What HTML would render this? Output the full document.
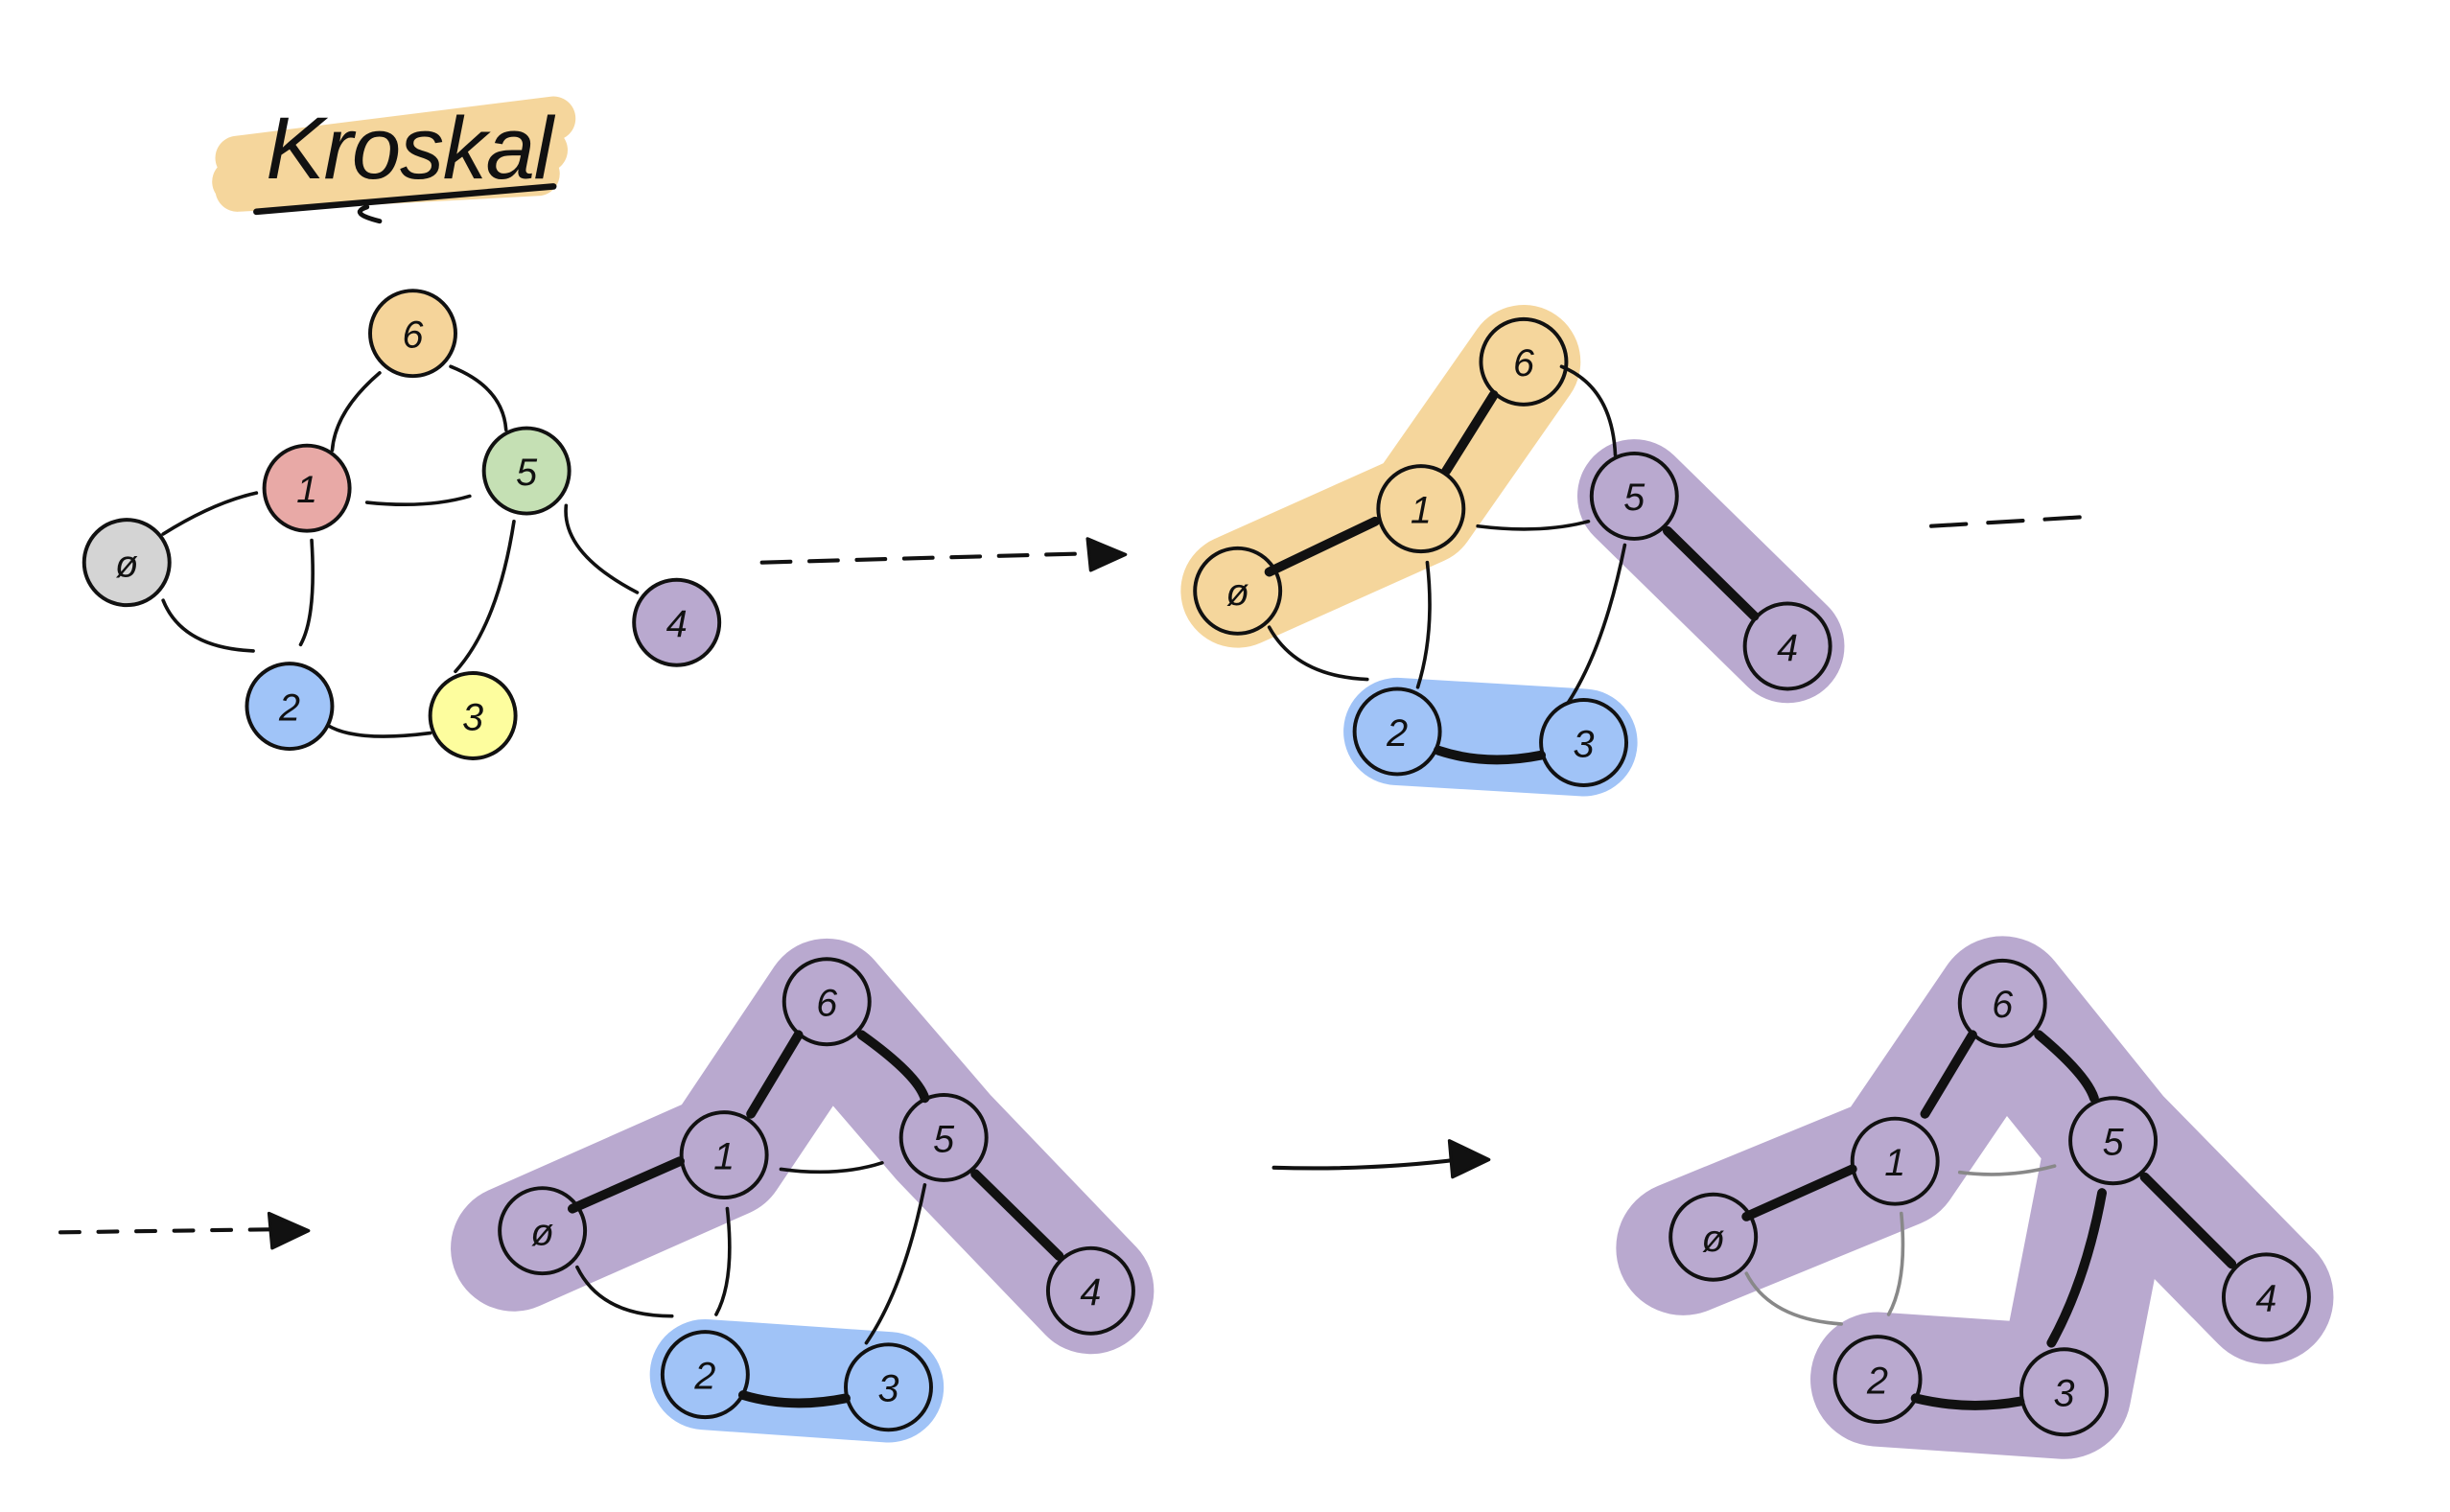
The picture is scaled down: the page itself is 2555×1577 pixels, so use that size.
<!DOCTYPE html>
<html><head><meta charset="utf-8"><style>
html,body{margin:0;padding:0;background:#fff}
svg{display:block}
text{font-family:"Liberation Sans",sans-serif}
</style></head><body>
<svg width="2555" height="1577" viewBox="0 0 1550 957" xmlns="http://www.w3.org/2000/svg">
<g stroke-linecap="round" stroke-linejoin="round" fill="none">
<!-- title -->
<path d="M150,100 L350,75 M148,115 L345,95 M150,120 L340,110" stroke="#f5d69c" stroke-width="28"/>
<text x="168" y="113" font-size="56" fill="#111" stroke="none" font-style="italic" font-family="Liberation Serif" textLength="182">Kroskal</text>
<path d="M162,134 L350,118" stroke="#111" stroke-width="4"/>
<path d="M240,140 Q220,135 232,131" stroke="#111" stroke-width="3"/>

<!-- graph 1 edges -->
<g stroke="#111" stroke-width="2.2">
<path d="M240,236 Q212,260 210,285"/>
<path d="M285,232 Q318,245 320,272"/>
<path d="M232,318 Q270,322 297,314"/>
<path d="M103,338 Q135,318 162,312"/>
<path d="M103,380 Q115,410 160,412"/>
<path d="M197,342 Q200,390 190,408"/>
<path d="M325,330 Q315,395 288,425"/>
<path d="M358,320 Q355,350 403,375"/>
<path d="M207,459 Q225,470 272,464"/>
</g>
<!-- graph1 nodes -->
<g stroke="#111" stroke-width="2.4">
<circle cx="261" cy="211" r="27" fill="#f5d49a"/>
<circle cx="194" cy="309" r="27" fill="#e8a9a6"/>
<circle cx="333" cy="298" r="27" fill="#c5e0b4"/>
<circle cx="80" cy="356" r="27" fill="#d4d4d4"/>
<circle cx="428" cy="394" r="27" fill="#b9a9cf"/>
<circle cx="183" cy="447" r="27" fill="#a0c4f8"/>
<circle cx="299" cy="453" r="27" fill="#fdfd9e"/>
</g>
<!-- arrow 1 -->
<path d="M482,356 L700,350" stroke="#111" stroke-width="2.5" stroke-dasharray="18,12"/>
<path d="M688,341 L712,351 L690,361 Z" fill="#111" stroke="#111" stroke-width="2"/>

<!-- graph 2 highlights -->
<path d="M783,374 L899,322 L964,229" stroke="#f5d69c" stroke-width="72"/>
<path d="M1034,314 L1131,409" stroke="#b9a9cf" stroke-width="72"/>
<path d="M884,463 L1002,470" stroke="#a0c3f7" stroke-width="68"/>
<g stroke="#111" stroke-width="2.2">
<path d="M945,250 L915,298" stroke-width="6"/>
<path d="M803,362 L870,330" stroke-width="6"/>
<path d="M1055,336 L1110,390" stroke-width="6"/>
<path d="M910,475 Q940,485 975,478" stroke-width="6"/>
<path d="M988,232 Q1020,245 1022,288"/>
<path d="M935,333 Q975,338 1005,330"/>
<path d="M903,356 Q908,400 897,435"/>
<path d="M803,397 Q820,428 865,430"/>
<path d="M1028,345 Q1015,410 992,445"/>
</g>
<g stroke="#111" stroke-width="2.4" fill="none">
<circle cx="964" cy="229" r="27"/><circle cx="899" cy="322" r="27"/><circle cx="1034" cy="314" r="27"/>
<circle cx="783" cy="374" r="27"/><circle cx="1131" cy="409" r="27"/><circle cx="884" cy="463" r="27"/><circle cx="1002" cy="470" r="27"/>
</g>
<path d="M1222,333 L1322,327" stroke="#111" stroke-width="2.5" stroke-dasharray="22,14"/>

<!-- arrow row 3 -->
<path d="M38,780 L180,778" stroke="#111" stroke-width="2.5" stroke-dasharray="12,12"/>
<path d="M170,768 L195,779 L172,790 Z" fill="#111" stroke="#111" stroke-width="2"/>

<!-- graph 3 -->
<path d="M325,790 L458,731 L523,634 L597,720 L690,817" stroke="#b9a9cf" stroke-width="80"/>
<path d="M446,870 L562,878" stroke="#a0c3f7" stroke-width="70"/>
<g stroke="#111" stroke-width="2.2">
<path d="M505,655 L475,705" stroke-width="6"/>
<path d="M362,765 L430,735" stroke-width="6"/>
<path d="M545,655 Q580,680 585,695" stroke-width="6"/>
<path d="M617,743 L670,795" stroke-width="6"/>
<path d="M470,883 Q500,892 535,885" stroke-width="6"/>
<path d="M494,740 Q530,745 558,736"/>
<path d="M460,765 Q465,810 453,832"/>
<path d="M365,802 Q380,833 425,833"/>
<path d="M585,750 Q572,815 548,850"/>
</g>
<g stroke="#111" stroke-width="2.4" fill="none">
<circle cx="523" cy="634" r="27"/><circle cx="458" cy="731" r="27"/><circle cx="597" cy="720" r="27"/>
<circle cx="343" cy="779" r="27"/><circle cx="690" cy="817" r="27"/><circle cx="446" cy="870" r="27"/><circle cx="562" cy="878" r="27"/>
</g>
<path d="M806,739 Q870,741 930,733" stroke="#111" stroke-width="2.5"/>
<path d="M917,722 L942,734 L919,745 Z" fill="#111" stroke="#111" stroke-width="2"/>

<!-- graph 4 -->
<path d="M1065,790 L1199,735 L1267,635 L1337,722 L1434,821 M1337,722 L1306,881 L1188,873" stroke="#b9a9cf" stroke-width="85"/>
<g stroke="#111" stroke-width="2.2">
<path d="M1248,655 L1218,705" stroke-width="6"/>
<path d="M1105,770 L1172,740" stroke-width="6"/>
<path d="M1290,655 Q1320,680 1325,695" stroke-width="6"/>
<path d="M1357,745 L1412,800" stroke-width="6"/>
<path d="M1330,755 Q1320,810 1298,850" stroke-width="6"/>
<path d="M1212,885 Q1245,893 1278,887" stroke-width="6"/>
<path d="M1240,742 Q1270,746 1300,738" stroke="#888"/>
<path d="M1203,768 Q1207,810 1195,832" stroke="#888"/>
<path d="M1105,806 Q1120,835 1165,838" stroke="#888"/>
</g>
<g stroke="#111" stroke-width="2.4" fill="none">
<circle cx="1267" cy="635" r="27"/><circle cx="1199" cy="735" r="27"/><circle cx="1337" cy="722" r="27"/>
<circle cx="1084" cy="783" r="27"/><circle cx="1434" cy="821" r="27"/><circle cx="1188" cy="873" r="27"/><circle cx="1306" cy="881" r="27"/>
</g>
</g>
<g font-family="Liberation Sans" font-size="24" fill="#111" text-anchor="middle" font-style="italic">
<text x="261" y="220">6</text><text x="194" y="318">1</text><text x="333" y="307">5</text><text x="80" y="365">ø</text><text x="428" y="403">4</text><text x="183" y="456">2</text><text x="299" y="462">3</text>
<text x="964" y="238">6</text><text x="899" y="331">1</text><text x="1034" y="323">5</text><text x="783" y="383">ø</text><text x="1131" y="418">4</text><text x="884" y="472">2</text><text x="1002" y="479">3</text>
<text x="523" y="643">6</text><text x="458" y="740">1</text><text x="597" y="729">5</text><text x="343" y="788">ø</text><text x="690" y="826">4</text><text x="446" y="879">2</text><text x="562" y="887">3</text>
<text x="1267" y="644">6</text><text x="1199" y="744">1</text><text x="1337" y="731">5</text><text x="1084" y="792">ø</text><text x="1434" y="830">4</text><text x="1188" y="882">2</text><text x="1306" y="890">3</text>
</g>
</svg>
</body></html>
